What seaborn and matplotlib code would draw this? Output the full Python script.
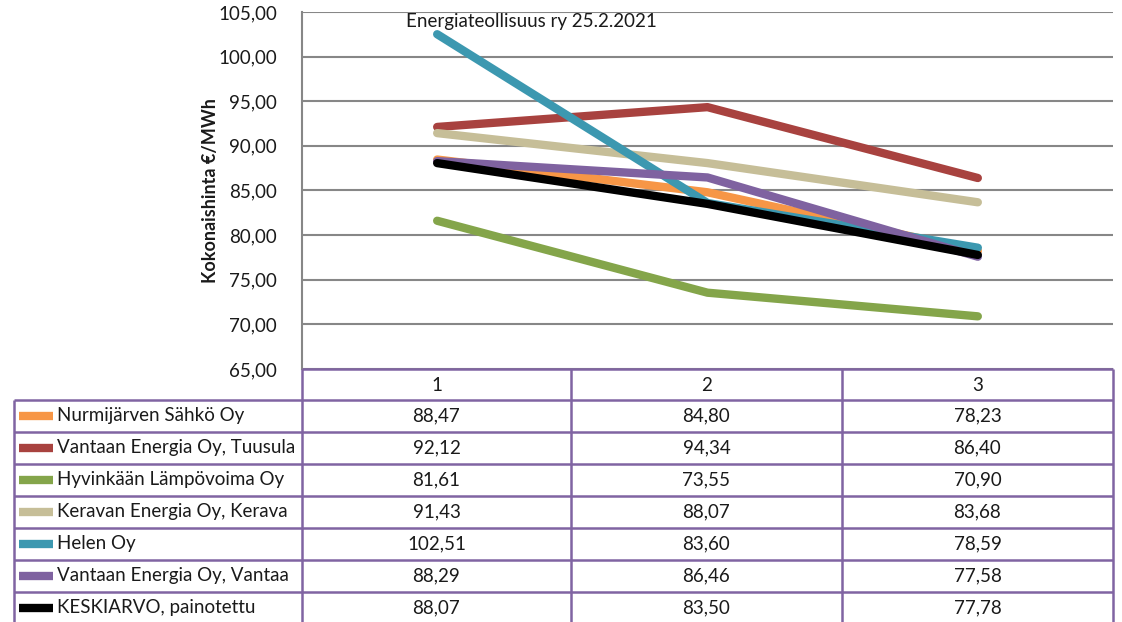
import numpy as np
import pandas as pd
import seaborn as sns
import matplotlib.pyplot as plt

#-----------------------------data
categories = ["1", "2", "3"]
series_names = ["Nurmijärven Sähkö Oy", "Vantaan Energia Oy, Tuusula", "Hyvinkään Lämpövoima Oy",
                "Keravan Energia Oy, Kerava", "Helen Oy", "Vantaan Energia Oy, Vantaa", "KESKIARVO, painotettu"]
nurmijarvi = [88.47, 84.80, 78.23]
vantaa_tuusula = [92.12, 94.34, 86.40]
hyvinkaa = [81.61, 73.55, 70.90]
kerava = [91.43, 88.07, 83.68]
helen = [102.51, 83.60, 78.59]
vantaa_vantaa = [88.29, 86.46, 77.58]
keskiarvo = [88.07, 83.50, 77.78]
all_values = [nurmijarvi, vantaa_tuusula, hyvinkaa, kerava, helen, vantaa_vantaa, keskiarvo]
colors = ["#F79646", "#A8423F", "#84A54A", "#C6BE98", "#3C98B0", "#7F62A0", "#000000"]
yticks = [65, 70, 75, 80, 85, 90, 95, 100, 105]
note = "Energiateollisuus ry 25.2.2021"

rows = []
for name, vals in zip(series_names, all_values):
    for i, v in enumerate(vals):
        rows.append({"x": i, "y": v, "series": name})
df = pd.DataFrame(rows)

sns.set_style("white")
plt.rcParams["font.family"] = ["Lato", "DejaVu Sans"]
FS = 13.5
TXT = "#1a1a1a"

W, H = 1122, 622
fig = plt.figure(figsize=(W / 100, H / 100), dpi=100)
fig.patch.set_facecolor("white")

# plot area in pixels
L, R, T, B = 302, 1113, 12, 369
ax = fig.add_axes([L / W, 1 - B / H, (R - L) / W, (B - T) / H])

sns.lineplot(data=df, x="x", y="y", hue="series", hue_order=series_names,
             palette=dict(zip(series_names, colors)), linewidth=6, legend=False,
             sort=False, ax=ax, solid_capstyle="round")

ax.set_xlim(-0.5, len(categories) - 0.5)
ax.set_ylim(65, 105)
ax.set_yticks(yticks)
ax.set_yticklabels([f"{t:.2f}".replace(".", ",") for t in yticks], fontsize=FS, color=TXT)
ax.set_xticks([])
ax.set_xlabel("")
ax.set_ylabel("Kokonaishinta €/MWh", fontsize=13, fontweight="bold", color=TXT)
ax.yaxis.set_label_coords((219 - L) / (R - L), 0.5)
ax.yaxis.grid(True, color="#878787", linewidth=1.5)
ax.set_axisbelow(True)
for s in ["top", "right", "bottom"]:
    ax.spines[s].set_visible(False)
ax.spines["left"].set_color("#878787")
ax.spines["left"].set_linewidth(1.5)
ax.tick_params(axis="y", length=0, pad=18)
ax.text((406 - L) / (R - L), 0.972, note, transform=ax.transAxes, fontsize=FS,
        va="center", ha="left", color=TXT)

#-----------------------------data table under the chart
tab = fig.add_axes([0, 0, 1, 1], facecolor="none")
tab.set_xlim(0, W)
tab.set_ylim(H, 0)
tab.axis("off")
border = "#8064A2"
col_x = [L, 571, 842, R]
row_y = [369, 400, 432, 464, 496, 528, 560, 592, 624]
tab.hlines(row_y[0], L, R, color=border, lw=1.8)
tab.hlines(row_y[1:], 14, R, color=border, lw=1.8)
tab.vlines(col_x, row_y[0], row_y[-1], color=border, lw=1.8)
tab.vlines(14, row_y[1], row_y[-1], color=border, lw=1.8)

for j, c in enumerate(categories):
    tab.text((col_x[j] + col_x[j + 1]) / 2, (row_y[0] + row_y[1]) / 2 + 1, c,
             ha="center", va="center", fontsize=FS, color=TXT)
for i, (name, vals, col) in enumerate(zip(series_names, all_values, colors)):
    yc = (row_y[i + 1] + row_y[i + 2]) / 2
    tab.plot([19, 53], [yc, yc], color=col, lw=6, solid_capstyle="butt")
    tab.text(57, yc, name, ha="left", va="center", fontsize=FS, color=TXT)
    for j, v in enumerate(vals):
        tab.text((col_x[j] + col_x[j + 1]) / 2, yc, f"{v:.2f}".replace(".", ","),
                 ha="center", va="center", fontsize=FS, color=TXT)

fig.savefig("out.png", dpi=100, facecolor="white")
